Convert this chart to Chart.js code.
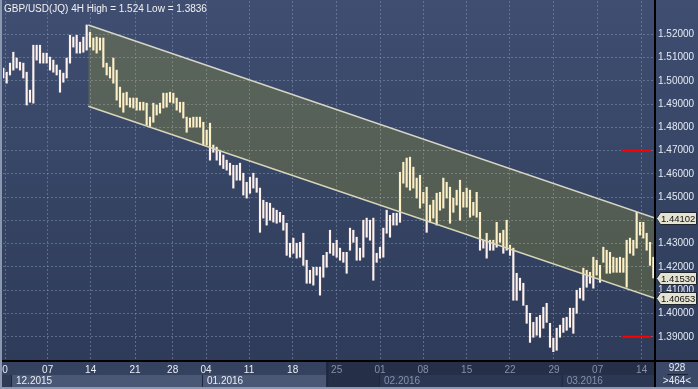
<!DOCTYPE html>
<html>
<head>
<meta charset="utf-8">
<script src="https://cdn.jsdelivr.net/npm/chart.js@4.4.0/dist/chart.umd.min.js"></script>
<style>
  html, body { margin:0; padding:0; background:#2e3a56; }
  canvas { display:block; }
</style>
</head>
<body>
<canvas id="chart" width="698" height="389"></canvas>
<script>
// Title
const titleText = "GBP/USD(JQ) 4H High = 1.524 Low = 1.3836";

// 4H bars (high / low), one per slot from the left
const barHigh = [
  1.5055,1.5037,1.5076,1.5123,1.5098,1.5080,1.5076,1.5037,1.4960,1.5153,
  1.5153,1.5153,1.5119,1.5119,1.5102,1.5089,1.5068,1.5046,1.5033,1.5098,
  1.5196,1.5188,1.5196,1.5166,1.5188,1.5240,1.5209,1.5184,1.5188,1.5184,
  1.5184,1.5076,1.5059,1.5098,1.5046,1.4973,1.4947,1.4951,1.4926,1.4926,
  1.4926,1.4908,1.4908,1.4904,1.4844,1.4904,1.4896,1.4904,1.4947,1.4947,
  1.4951,1.4947,1.4926,1.4908,1.4908,1.4844,1.4840,1.4844,1.4844,1.4844,
  1.4822,1.4788,1.4818,1.4724,1.4715,1.4702,1.4681,1.4659,1.4646,1.4637,
  1.4637,1.4646,1.4603,1.4564,1.4586,1.4603,1.4582,1.4539,1.4487,1.4478,
  1.4474,1.4453,1.4444,1.4435,1.4422,1.4388,1.4302,1.4324,1.4302,1.4306,
  1.4345,1.4229,1.4186,1.4199,1.4199,1.4199,1.4250,1.4263,1.4358,1.4302,
  1.4315,1.4281,1.4263,1.4263,1.4367,1.4358,1.4328,1.4281,1.4401,1.4410,
  1.4401,1.4410,1.4259,1.4285,1.4367,1.4444,1.4422,1.4431,1.4431,1.4607,
  1.4650,1.4668,1.4672,1.4629,1.4582,1.4594,1.4521,1.4543,1.4466,1.4487,
  1.4517,1.4521,1.4582,1.4564,1.4543,1.4496,1.4530,1.4573,1.4521,1.4539,
  1.4530,1.4478,1.4521,1.4435,1.4315,1.4345,1.4315,1.4315,1.4392,1.4345,
  1.4358,1.4401,1.4294,1.4281,1.4173,1.4152,1.4130,1.4035,1.4001,1.3962,
  1.3984,1.3992,1.4027,1.4044,1.3958,1.3894,1.3937,1.3950,1.3980,1.3984,
  1.4023,1.4023,1.4100,1.4109,1.4195,1.4186,1.4177,1.4242,1.4229,1.4207,
  1.4285,1.4272,1.4263,1.4242,1.4238,1.4242,1.4238,1.4315,1.4324,1.4315,
  1.4435,1.4392,1.4392,1.4345,1.4306,1.4242
];
const barLow = [
  1.5012,1.4990,1.5025,1.5046,1.5055,1.5046,1.5012,1.4896,1.4908,1.4904,
  1.5089,1.5076,1.5076,1.5076,1.5046,1.5037,1.5025,1.4951,1.4994,1.5012,
  1.5076,1.5145,1.5119,1.5119,1.5123,1.5132,1.5145,1.5132,1.5119,1.5132,
  1.5059,1.5025,1.5012,1.4990,1.4917,1.4887,1.4865,1.4896,1.4887,1.4883,
  1.4874,1.4874,1.4874,1.4810,1.4801,1.4822,1.4853,1.4861,1.4883,1.4887,
  1.4908,1.4904,1.4874,1.4865,1.4840,1.4779,1.4801,1.4801,1.4801,1.4801,
  1.4724,1.4724,1.4659,1.4693,1.4659,1.4638,1.4623,1.4616,1.4595,1.4539,
  1.4573,1.4573,1.4509,1.4496,1.4517,1.4539,1.4521,1.4349,1.4410,1.4380,
  1.4401,1.4393,1.4388,1.4393,1.4358,1.4250,1.4242,1.4259,1.4238,1.4242,
  1.4207,1.4130,1.4130,1.4122,1.4165,1.4079,1.4156,1.4199,1.4259,1.4250,
  1.4242,1.4229,1.4220,1.4173,1.4272,1.4306,1.4229,1.4229,1.4242,1.4328,
  1.4315,1.4143,1.4220,1.4238,1.4242,1.4345,1.4328,1.4380,1.4380,1.4392,
  1.4560,1.4543,1.4530,1.4539,1.4496,1.4453,1.4474,1.4349,1.4393,1.4410,
  1.4380,1.4444,1.4453,1.4496,1.4388,1.4435,1.4466,1.4401,1.4457,1.4457,
  1.4414,1.4422,1.4414,1.4272,1.4281,1.4238,1.4272,1.4272,1.4285,1.4306,
  1.4259,1.4272,1.4250,1.4057,1.4057,1.4100,1.4035,1.3958,1.3876,1.3898,
  1.3907,1.3898,1.3937,1.3962,1.3855,1.3836,1.3842,1.3898,1.3919,1.3928,
  1.3941,1.3915,1.4001,1.4066,1.4057,1.4113,1.4130,1.4109,1.4165,1.4134,
  1.4220,1.4173,1.4173,1.4177,1.4177,1.4177,1.4177,1.4113,1.4259,1.4250,
  1.4281,1.4337,1.4324,1.4272,1.4207,1.4153
];

// Channel (start slot / end slot)
const channelX = [26.5, 196.5];
const channelTop = [1.5240, 1.44102];
const channelBottom = [1.4891, 1.40653];

// Red levels
const alertLevels = [1.47, 1.39];
const alertX = [186.7, 195.2];

// Price tags on the right axis
const tagValues = [1.44102, 1.41530, 1.40653];

// Axes
const priceTicks = [1.39,1.40,1.41,1.42,1.43,1.44,1.45,1.46,1.47,1.48,1.49,1.50,1.51,1.52];
const dateTickIdx = [1.5, 14.3, 27.2, 40.5, 51.8, 61.8, 74.7, 87.8, 101, 114, 126.9, 140, 153, 166.2, 179.3, 192.5];
const dateTickLabels = ['0','07','14','21','28','04','11','18','25','01','08','15','22','29','07','14'];
const monthStartIdx = [3.6, 60.9, 114, 168.8];
const monthLabels = ['12.2015','01.2016','02.2016','03.2016'];
const viewEndIdx = 97.9;
const infoTop = '928', infoBottom = '>464<';

const FONT = "'Liberation Sans Narrow', 'Liberation Sans', Arial, sans-serif";
const gridColor = 'rgba(130,146,178,0.55)';

// Background, bottom strip
const backdrop = {
  id: 'backdrop',
  beforeDraw(chart) {
    const c = chart.ctx, xs = chart.scales.x;
    const g = c.createLinearGradient(0, 0, 0, 361);
    g.addColorStop(0, '#3f4e71');
    g.addColorStop(1, '#2e3b59');
    c.fillStyle = g;
    c.fillRect(0, 0, chart.width, 361);

    const split = xs.getPixelForValue(viewEndIdx);
    c.fillStyle = '#34415f';
    c.fillRect(0, 361, split, 14);
    c.fillStyle = '#252f48';
    c.fillRect(split, 361, 655 - split, 28);

    // month bands
    monthStartIdx.forEach((m, i) => {
      const x0 = xs.getPixelForValue(m);
      const x1 = i < monthStartIdx.length - 1 ? xs.getPixelForValue(monthStartIdx[i + 1]) : 655;
      if (x0 < split) {
        c.fillStyle = '#4a5775';
        c.fillRect(x0, 375, Math.min(x1, split) - x0, 12);
      } else {
        c.fillStyle = '#2c3753';
        c.fillRect(x0, 375, x1 - x0, 12);
      }
      c.fillStyle = '#1e2740';
      c.fillRect(x0 - 1, 375, 1, 12);
    });

    // info box
    c.fillStyle = '#3b4867';
    c.fillRect(656, 361, 42, 28);
  },
  afterDraw(chart) {
    const c = chart.ctx, xs = chart.scales.x, ys = chart.scales.y;
    const split = xs.getPixelForValue(viewEndIdx);
    c.save();

    // frame
    c.fillStyle = '#000';
    c.fillRect(0, 360, chart.width, 2);
    c.fillRect(654, 0, 2, chart.height);
    c.fillStyle = '#8c98b0';
    c.fillRect(0, 0, 2, chart.height);
    c.fillRect(0, 387, chart.width, 2);
    c.fillStyle = '#1e2740';
    c.fillRect(split, 362, 2, 25);

    // title
    c.font = '10px ' + FONT;
    c.fillStyle = '#f2f2f2';
    c.textAlign = 'left';
    c.textBaseline = 'alphabetic';
    c.fillText(titleText, 4, 11.5);

    // month labels
    monthStartIdx.forEach((m, i) => {
      const x0 = xs.getPixelForValue(m);
      c.fillStyle = x0 < split ? '#e8eef6' : '#8591a8';
      c.textBaseline = 'middle';
      c.fillText(monthLabels[i], x0 + 4, 381.5);
    });

    // tags
    c.font = '9.5px ' + FONT;
    tagValues.forEach(v => {
      const y = Math.round(ys.getPixelForValue(v)) + 0.5;
      c.beginPath();
      c.moveTo(656.5, y);
      c.lineTo(660.5, y - 6);
      c.lineTo(696.5, y - 6);
      c.lineTo(696.5, y + 6);
      c.lineTo(660.5, y + 6);
      c.closePath();
      c.fillStyle = '#e4e3d2';
      c.fill();
      c.strokeStyle = '#20242c';
      c.lineWidth = 1;
      c.stroke();
      c.fillStyle = '#111';
      c.textBaseline = 'middle';
      c.fillText(v.toFixed(5), 661, y + 0.5);
    });

    // info box
    c.font = '10px ' + FONT;
    c.textAlign = 'center';
    c.fillStyle = '#e8eef6';
    c.fillText(infoTop, 677, 368);
    c.fillText(infoBottom, 677, 381);
    c.fillStyle = '#1a2236';
    c.fillRect(667, 374, 21, 1);
    c.restore();
  }
};

new Chart(document.getElementById('chart'), {
  type: 'bar',
  data: {
    datasets: [
      {
        type: 'line',
        data: channelX.map((x, i) => ({ x, y: channelTop[i] })),
        borderColor: '#d6d5c8', borderWidth: 1.5, pointRadius: 0,
        fill: '+1', backgroundColor: 'rgba(243,231,0,0.16)',
        order: 1
      },
      {
        type: 'line',
        data: channelX.map((x, i) => ({ x, y: channelBottom[i] })),
        borderColor: '#d6d5c8', borderWidth: 1.5, pointRadius: 0,
        fill: false, order: 1
      },
      ...alertLevels.map(lv => ({
        type: 'line',
        data: alertX.map(x => ({ x, y: lv })),
        borderColor: '#ff0000', borderWidth: 2, pointRadius: 0,
        fill: false, order: 0
      })),
      {
        type: 'bar',
        data: barHigh.map((h, i) => ({ x: i + 1, y: [barLow[i], h] })),
        backgroundColor: '#fff1ec',
        barThickness: 1.5,
        order: 2
      }
    ]
  },
  options: {
    responsive: false,
    animation: false,
    devicePixelRatio: 1,
    layout: { padding: { left: 3, top: 1, right: 0, bottom: 0 } },
    plugins: { legend: { display: false }, tooltip: { enabled: false } },
    scales: {
      x: {
        type: 'linear', min: 0.9, max: 196.5, offset: false,
        afterBuildTicks: s => { s.ticks = dateTickIdx.map(v => ({ value: v })); },
        afterFit: s => { s.height = 28; s.paddingLeft = 0; s.paddingRight = 0; },
        grid: { color: gridColor, drawTicks: false, offset: false },
        border: { display: false, dash: [2, 2] },
        ticks: {
          autoSkip: false, maxRotation: 0, minRotation: 0, padding: 3,
          font: { family: FONT, size: 10 },
          color: ctx => (ctx.tick && ctx.tick.value > viewEndIdx) ? '#8591a8' : '#e8eef6',
          callback: (v, i) => dateTickLabels[i]
        }
      },
      y: {
        position: 'right', min: 1.3796, max: 1.5343,
        afterBuildTicks: s => { s.ticks = priceTicks.map(v => ({ value: v })); },
        afterFit: s => { s.width = 43; s.paddingTop = 0; s.paddingBottom = 0; },
        grid: { color: gridColor, drawTicks: false },
        border: { display: false, dash: [2, 2] },
        ticks: {
          padding: 3, color: '#e4eaf4',
          font: { family: FONT, size: 10 },
          callback: v => v.toFixed(5)
        }
      }
    }
  },
  plugins: [backdrop]
});
</script>
</body>
</html>
